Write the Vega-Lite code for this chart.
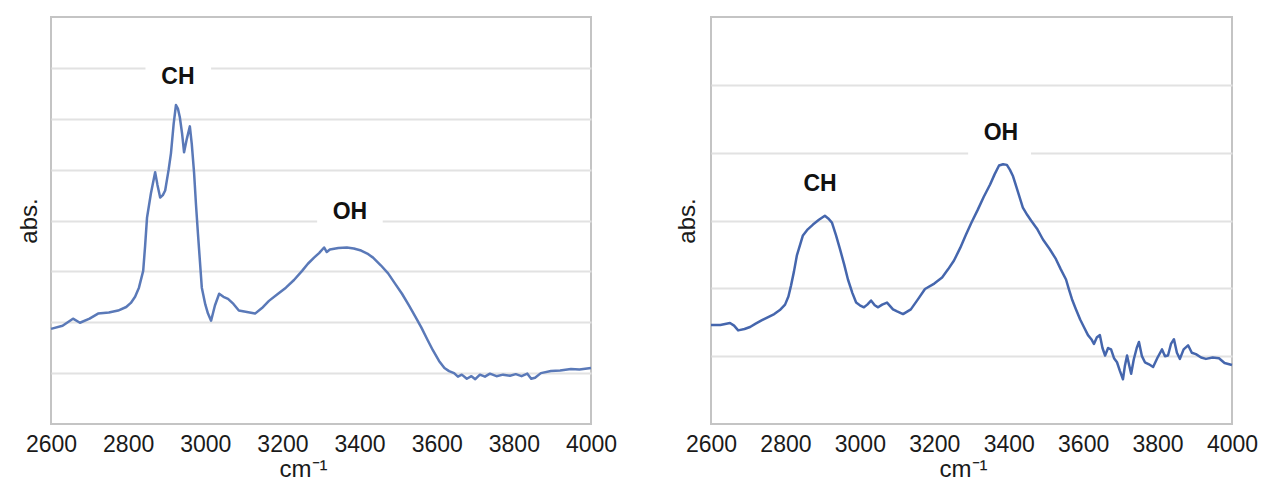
{
  "$schema": "https://vega.github.io/schema/vega-lite/v6.json",
  "padding": {"left": 16, "top": 16, "right": 0, "bottom": 0},
  "background": "white",
  "spacing": 120,
  "bounds": "flush",
  "config": {
    "font": "Liberation Sans",
    "view": {"stroke": "#c4c4c4", "strokeWidth": 2},
    "axis": {
      "gridColor": "#e2e2e2",
      "gridWidth": 2,
      "labelFont": "Liberation Sans",
      "titleFont": "Liberation Sans",
      "labelColor": "#1a1a1a",
      "titleColor": "#1a1a1a",
      "titleFontWeight": "normal"
    }
  },
  "datasets": {
    "left": [
      {"wn": 2600, "abs": 0.187}, {"wn": 2630, "abs": 0.193}, {"wn": 2657, "abs": 0.207}, {"wn": 2675, "abs": 0.199},
      {"wn": 2700, "abs": 0.207}, {"wn": 2722, "abs": 0.217}, {"wn": 2750, "abs": 0.219}, {"wn": 2774, "abs": 0.223},
      {"wn": 2795, "abs": 0.230}, {"wn": 2807, "abs": 0.238}, {"wn": 2818, "abs": 0.250}, {"wn": 2828, "abs": 0.268},
      {"wn": 2839, "abs": 0.301}, {"wn": 2844, "abs": 0.350}, {"wn": 2849, "abs": 0.406}, {"wn": 2859, "abs": 0.453},
      {"wn": 2870, "abs": 0.495}, {"wn": 2876, "abs": 0.470}, {"wn": 2883, "abs": 0.445}, {"wn": 2890, "abs": 0.450},
      {"wn": 2896, "abs": 0.459}, {"wn": 2905, "abs": 0.500}, {"wn": 2911, "abs": 0.532}, {"wn": 2918, "abs": 0.590},
      {"wn": 2924, "abs": 0.627}, {"wn": 2929, "abs": 0.620}, {"wn": 2934, "abs": 0.603}, {"wn": 2940, "abs": 0.570},
      {"wn": 2945, "abs": 0.534}, {"wn": 2952, "abs": 0.560}, {"wn": 2960, "abs": 0.585}, {"wn": 2965, "abs": 0.550},
      {"wn": 2971, "abs": 0.493}, {"wn": 2976, "abs": 0.430}, {"wn": 2981, "abs": 0.374}, {"wn": 2991, "abs": 0.268},
      {"wn": 3000, "abs": 0.235}, {"wn": 3007, "abs": 0.217}, {"wn": 3015, "abs": 0.203}, {"wn": 3025, "abs": 0.233},
      {"wn": 3036, "abs": 0.256}, {"wn": 3047, "abs": 0.250}, {"wn": 3059, "abs": 0.246}, {"wn": 3073, "abs": 0.236},
      {"wn": 3087, "abs": 0.223}, {"wn": 3108, "abs": 0.220}, {"wn": 3129, "abs": 0.217}, {"wn": 3147, "abs": 0.228},
      {"wn": 3165, "abs": 0.242}, {"wn": 3187, "abs": 0.255}, {"wn": 3209, "abs": 0.268}, {"wn": 3230, "abs": 0.283},
      {"wn": 3251, "abs": 0.301}, {"wn": 3266, "abs": 0.315}, {"wn": 3282, "abs": 0.327}, {"wn": 3295, "abs": 0.336},
      {"wn": 3308, "abs": 0.347}, {"wn": 3315, "abs": 0.338}, {"wn": 3323, "abs": 0.343}, {"wn": 3345, "abs": 0.346},
      {"wn": 3367, "abs": 0.347}, {"wn": 3385, "abs": 0.345}, {"wn": 3404, "abs": 0.341}, {"wn": 3420, "abs": 0.335},
      {"wn": 3435, "abs": 0.327}, {"wn": 3455, "abs": 0.312}, {"wn": 3474, "abs": 0.296}, {"wn": 3492, "abs": 0.276},
      {"wn": 3510, "abs": 0.256}, {"wn": 3528, "abs": 0.233}, {"wn": 3546, "abs": 0.209}, {"wn": 3560, "abs": 0.190},
      {"wn": 3577, "abs": 0.164}, {"wn": 3590, "abs": 0.145}, {"wn": 3606, "abs": 0.124}, {"wn": 3620, "abs": 0.110},
      {"wn": 3632, "abs": 0.104}, {"wn": 3645, "abs": 0.100}, {"wn": 3655, "abs": 0.093}, {"wn": 3665, "abs": 0.097},
      {"wn": 3678, "abs": 0.089}, {"wn": 3690, "abs": 0.094}, {"wn": 3700, "abs": 0.088}, {"wn": 3712, "abs": 0.097},
      {"wn": 3725, "abs": 0.093}, {"wn": 3738, "abs": 0.099}, {"wn": 3755, "abs": 0.094}, {"wn": 3772, "abs": 0.097},
      {"wn": 3790, "abs": 0.095}, {"wn": 3805, "abs": 0.098}, {"wn": 3820, "abs": 0.094}, {"wn": 3835, "abs": 0.099},
      {"wn": 3845, "abs": 0.089}, {"wn": 3855, "abs": 0.091}, {"wn": 3870, "abs": 0.100}, {"wn": 3896, "abs": 0.104},
      {"wn": 3920, "abs": 0.105}, {"wn": 3948, "abs": 0.108}, {"wn": 3970, "abs": 0.107}, {"wn": 4000, "abs": 0.110}
    ],
    "right": [
      {"wn": 2600, "abs": 0.146}, {"wn": 2625, "abs": 0.146}, {"wn": 2651, "abs": 0.149}, {"wn": 2662, "abs": 0.145},
      {"wn": 2673, "abs": 0.138}, {"wn": 2690, "abs": 0.140}, {"wn": 2705, "abs": 0.143}, {"wn": 2720, "abs": 0.148},
      {"wn": 2737, "abs": 0.153}, {"wn": 2755, "abs": 0.158}, {"wn": 2770, "abs": 0.162}, {"wn": 2785, "abs": 0.168},
      {"wn": 2799, "abs": 0.176}, {"wn": 2808, "abs": 0.188}, {"wn": 2815, "abs": 0.204}, {"wn": 2823, "abs": 0.225},
      {"wn": 2831, "abs": 0.249}, {"wn": 2847, "abs": 0.278}, {"wn": 2860, "abs": 0.287}, {"wn": 2874, "abs": 0.294},
      {"wn": 2890, "abs": 0.301}, {"wn": 2906, "abs": 0.307}, {"wn": 2915, "abs": 0.303}, {"wn": 2925, "abs": 0.297},
      {"wn": 2936, "abs": 0.278}, {"wn": 2947, "abs": 0.257}, {"wn": 2958, "abs": 0.235}, {"wn": 2968, "abs": 0.213},
      {"wn": 2980, "abs": 0.193}, {"wn": 2990, "abs": 0.179}, {"wn": 3000, "abs": 0.175}, {"wn": 3011, "abs": 0.172},
      {"wn": 3020, "abs": 0.176}, {"wn": 3030, "abs": 0.182}, {"wn": 3040, "abs": 0.175}, {"wn": 3049, "abs": 0.172},
      {"wn": 3060, "abs": 0.176}, {"wn": 3073, "abs": 0.179}, {"wn": 3089, "abs": 0.169}, {"wn": 3100, "abs": 0.166},
      {"wn": 3116, "abs": 0.162}, {"wn": 3137, "abs": 0.169}, {"wn": 3155, "abs": 0.183}, {"wn": 3175, "abs": 0.199},
      {"wn": 3200, "abs": 0.207}, {"wn": 3221, "abs": 0.216}, {"wn": 3237, "abs": 0.228}, {"wn": 3253, "abs": 0.241},
      {"wn": 3270, "abs": 0.260}, {"wn": 3285, "abs": 0.279}, {"wn": 3300, "abs": 0.297}, {"wn": 3317, "abs": 0.316},
      {"wn": 3333, "abs": 0.335}, {"wn": 3350, "abs": 0.353}, {"wn": 3362, "abs": 0.368}, {"wn": 3374, "abs": 0.381},
      {"wn": 3385, "abs": 0.383}, {"wn": 3395, "abs": 0.382}, {"wn": 3403, "abs": 0.375}, {"wn": 3411, "abs": 0.366},
      {"wn": 3425, "abs": 0.342}, {"wn": 3438, "abs": 0.319}, {"wn": 3450, "abs": 0.308}, {"wn": 3460, "abs": 0.300},
      {"wn": 3476, "abs": 0.288}, {"wn": 3492, "abs": 0.272}, {"wn": 3510, "abs": 0.258}, {"wn": 3527, "abs": 0.243},
      {"wn": 3540, "abs": 0.228}, {"wn": 3554, "abs": 0.213}, {"wn": 3562, "abs": 0.198}, {"wn": 3570, "abs": 0.184},
      {"wn": 3580, "abs": 0.170}, {"wn": 3592, "abs": 0.154}, {"wn": 3602, "abs": 0.143}, {"wn": 3613, "abs": 0.131},
      {"wn": 3622, "abs": 0.125}, {"wn": 3629, "abs": 0.118}, {"wn": 3637, "abs": 0.128}, {"wn": 3645, "abs": 0.131},
      {"wn": 3652, "abs": 0.112}, {"wn": 3659, "abs": 0.101}, {"wn": 3667, "abs": 0.112}, {"wn": 3675, "abs": 0.110},
      {"wn": 3683, "abs": 0.097}, {"wn": 3691, "abs": 0.091}, {"wn": 3699, "abs": 0.078}, {"wn": 3707, "abs": 0.066},
      {"wn": 3712, "abs": 0.085}, {"wn": 3718, "abs": 0.101}, {"wn": 3724, "abs": 0.086}, {"wn": 3729, "abs": 0.074},
      {"wn": 3736, "abs": 0.095}, {"wn": 3744, "abs": 0.112}, {"wn": 3750, "abs": 0.121}, {"wn": 3758, "abs": 0.100},
      {"wn": 3766, "abs": 0.091}, {"wn": 3777, "abs": 0.088}, {"wn": 3788, "abs": 0.084}, {"wn": 3800, "abs": 0.098},
      {"wn": 3812, "abs": 0.110}, {"wn": 3820, "abs": 0.100}, {"wn": 3828, "abs": 0.101}, {"wn": 3836, "abs": 0.118},
      {"wn": 3844, "abs": 0.125}, {"wn": 3852, "abs": 0.105}, {"wn": 3860, "abs": 0.096}, {"wn": 3870, "abs": 0.110},
      {"wn": 3882, "abs": 0.116}, {"wn": 3892, "abs": 0.105}, {"wn": 3903, "abs": 0.103}, {"wn": 3917, "abs": 0.098},
      {"wn": 3930, "abs": 0.096}, {"wn": 3948, "abs": 0.098}, {"wn": 3965, "abs": 0.097}, {"wn": 3980, "abs": 0.090},
      {"wn": 4000, "abs": 0.087}
    ],
    "leftLabels": [
      {"wn": 2929, "abs": 0.682, "label": "CH"},
      {"wn": 3375, "abs": 0.416, "label": "OH"}
    ],
    "rightLabels": [
      {"wn": 2893, "abs": 0.354, "label": "CH"},
      {"wn": 3379, "abs": 0.429, "label": "OH"}
    ],
    "leftMask": [
      {"wn": 2845, "wn2": 3015, "abs": 0.688, "abs2": 0.712},
      {"wn": 3290, "wn2": 3460, "abs": 0.388, "abs2": 0.412}
    ],
    "rightMask": [
      {"wn": 3291, "wn2": 3460, "abs": 0.388, "abs2": 0.412}
    ]
  },
  "hconcat": [
    {
      "width": 540,
      "height": 407,
      "encoding": {
        "x": {
          "field": "wn", "type": "quantitative",
          "scale": {"domain": [2600, 4000], "nice": false},
          "axis": {
            "values": [2600, 2800, 3000, 3200, 3400, 3600, 3800, 4000],
            "format": "d",
            "grid": false, "ticks": false, "domain": false,
            "labelFontSize": 23, "labelPadding": 9, "labelFlush": false,
            "title": "cm⁻¹", "titleFontSize": 24, "titlePadding": 1, "titleX": 252
          }
        },
        "y": {
          "field": "abs", "type": "quantitative",
          "scale": {"domain": [0, 0.8], "nice": false},
          "axis": {
            "values": [0.1, 0.2, 0.3, 0.4, 0.5, 0.6, 0.7],
            "labels": false, "ticks": false, "domain": false, "grid": true,
            "title": "abs.", "titleFontSize": 24, "titlePadding": 10
          }
        }
      },
      "layer": [
        {
          "data": {"name": "leftMask"},
          "mark": {"type": "rect", "color": "white"},
          "encoding": {"x2": {"field": "wn2"}, "y2": {"field": "abs2"}}
        },
        {
          "data": {"name": "left"},
          "mark": {"type": "line", "color": "#5a79b8", "strokeWidth": 2.5, "strokeJoin": "round"}
        },
        {
          "data": {"name": "leftLabels"},
          "mark": {"type": "text", "fontSize": 23, "fontWeight": "bold", "color": "#111111", "align": "center", "baseline": "middle"},
          "encoding": {"text": {"field": "label"}}
        }
      ]
    },
    {
      "width": 521,
      "height": 407,
      "encoding": {
        "x": {
          "field": "wn", "type": "quantitative",
          "scale": {"domain": [2600, 4000], "nice": false},
          "axis": {
            "values": [2600, 2800, 3000, 3200, 3400, 3600, 3800, 4000],
            "format": "d",
            "grid": false, "ticks": false, "domain": false,
            "labelFontSize": 23, "labelPadding": 9, "labelFlush": false,
            "title": "cm⁻¹", "titleFontSize": 24, "titlePadding": 1, "titleX": 252
          }
        },
        "y": {
          "field": "abs", "type": "quantitative",
          "scale": {"domain": [0, 0.6], "nice": false},
          "axis": {
            "values": [0.1, 0.2, 0.3, 0.4, 0.5],
            "labels": false, "ticks": false, "domain": false, "grid": true,
            "title": "abs.", "titleFontSize": 24, "titlePadding": 12
          }
        }
      },
      "layer": [
        {
          "data": {"name": "rightMask"},
          "mark": {"type": "rect", "color": "white"},
          "encoding": {"x2": {"field": "wn2"}, "y2": {"field": "abs2"}}
        },
        {
          "data": {"name": "right"},
          "mark": {"type": "line", "color": "#4566ad", "strokeWidth": 2.5, "strokeJoin": "round"}
        },
        {
          "data": {"name": "rightLabels"},
          "mark": {"type": "text", "fontSize": 23, "fontWeight": "bold", "color": "#111111", "align": "center", "baseline": "middle"},
          "encoding": {"text": {"field": "label"}}
        }
      ]
    }
  ]
}
